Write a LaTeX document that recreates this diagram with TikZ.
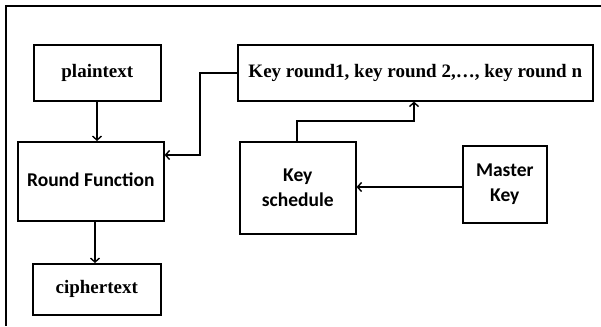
\documentclass[tikz,border=0pt]{standalone}
\usepackage{fontspec}
\setmainfont{Liberation Serif}
\newfontfamily\calib{Carlito}
\usetikzlibrary{arrows.meta}
\begin{document}
\begin{tikzpicture}[x=1pt,y=-1pt,
  blk/.style={draw=black,line width=1.6pt,inner sep=0pt,anchor=north west},
  ser/.style={font=\fontsize{19}{21}\selectfont\bfseries},
  san/.style={font=\calib\fontsize{19.5}{24.5}\selectfont\bfseries,align=center},
  conn/.style={line width=1.6pt,-{Straight Barb[length=4pt,width=9pt,line width=1.4pt]}}]
\useasboundingbox (0,0) rectangle (601,326);
% outer frame: top and left edges
\draw[line width=1.6pt] (601,6) -- (6,6) -- (6,326);
% boxes
\node[blk,minimum width=127pt,minimum height=56pt] (pt) at (33,44) {};
\node[ser] at (pt.center) {plaintext};
\node[blk,minimum width=146pt,minimum height=79pt] (rf) at (17,141) {};
\node[san] at ([yshift=2pt]rf.center) {Round Function};
\node[blk,minimum width=128pt,minimum height=51pt] (ct) at (32,263) {};
\node[ser] at (ct.center) {ciphertext};
\node[blk,minimum width=355pt,minimum height=56pt] (kr) at (237,44) {};
\node[ser] at (kr.center) {Key round1, key round 2,\dots, key round n};
\node[blk,minimum width=116pt,minimum height=92pt] (ks) at (239,141) {};
\node[san] at (ks.center) {Key\\schedule};
\node[blk,minimum width=84pt,minimum height=77pt] (mk) at (462,145) {};
\node[san] at (mk.center) {Master\\Key};
% connectors
\coordinate (c1) at (200,73);
\coordinate (c2) at (297,121);
\draw[conn] (pt.south -| 97,0) -- (rf.north -| 97,0);
\draw[conn] (rf.south -| 95,0) -- (ct.north -| 95,0);
\draw[conn] (kr.west |- c1) -- (c1) -- (c1 |- 0,155) -- (rf.east |- 0,155);
\draw[conn] (ks.north -| c2) -- (c2) -- (414,121) -- (kr.south -| 414,0);
\draw[conn] (mk.west |- 0,187) -- (ks.east |- 0,187);
\end{tikzpicture}
\end{document}
